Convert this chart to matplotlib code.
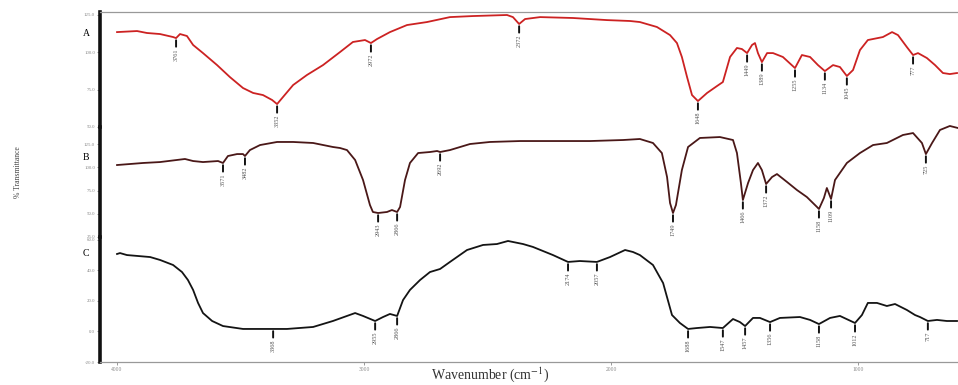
#! /usr/bin/env python3

"""
FTIR spectra of three samples (A, B, C) stacked on one wavenumber axis.
"""

import numpy as np
import matplotlib.pyplot as plt

# ---- data ------------------------------------------------------------
wn_a = [4000, 3919, 3879, 3826, 3773, 3761, 3745, 3717, 3692, 3652, 3595,
        3543, 3490, 3449, 3409, 3372, 3352, 3328, 3287, 3231, 3166, 3097,
        3045, 2996, 2972, 2947, 2895, 2826, 2745, 2652, 2559, 2421, 2397,
        2372, 2348, 2287, 2154, 2016, 1923, 1883, 1814, 1761, 1733, 1713,
        1692, 1672, 1648, 1611, 1571, 1547, 1518, 1490, 1470, 1449, 1429,
        1417, 1405, 1389, 1368, 1344, 1304, 1255, 1227, 1194, 1162, 1134,
        1101, 1073, 1045, 1020, 992, 960, 899, 862, 838, 802, 777, 757,
        721, 688, 656, 628, 599]
t_a = [113.3, 114.0, 112.7, 112.0, 110.0, 109.3, 112.0, 110.7, 104.7, 99.3,
       91.3, 83.3, 76.0, 72.7, 71.3, 68.0, 65.3, 70.0, 78.0, 84.7, 91.3,
       100.0, 106.7, 108.0, 106.0, 108.7, 113.3, 118.0, 120.0, 123.3, 124.0,
       124.7, 123.3, 118.7, 122.0, 123.3, 122.7, 121.3, 120.7, 120.0, 116.7,
       111.3, 106.0, 96.7, 83.3, 71.3, 67.3, 72.7, 77.3, 80.0, 96.7, 102.7,
       102.0, 99.3, 104.7, 106.0, 99.3, 93.3, 99.3, 99.3, 96.7, 89.3, 98.0,
       96.7, 91.3, 87.3, 91.3, 90.0, 84.0, 88.0, 101.3, 108.0, 110.0, 113.3,
       111.3, 103.3, 98.0, 99.3, 96.0, 91.3, 86.0, 85.3, 86.0]

wn_b = [4000, 3895, 3826, 3725, 3692, 3652, 3591, 3571, 3551, 3514, 3490,
        3482, 3462, 3421, 3352, 3287, 3206, 3126, 3097, 3069, 3036, 3004,
        2976, 2964, 2943, 2907, 2887, 2866, 2854, 2834, 2814, 2781, 2733,
        2704, 2692, 2652, 2571, 2490, 2368, 2219, 2085, 1951, 1883, 1830,
        1794, 1773, 1761, 1749, 1737, 1713, 1688, 1640, 1559, 1506, 1490,
        1474, 1466, 1445, 1425, 1405, 1389, 1372, 1348, 1328, 1287, 1247,
        1207, 1166, 1158, 1138, 1126, 1109, 1093, 1045, 992, 939, 883, 818,
        777, 741, 725, 700, 668, 628, 595]
t_b = [102.4, 104.6, 105.6, 108.9, 106.7, 105.6, 106.7, 104.6, 112.1, 114.2,
       114.2, 112.1, 118.5, 123.9, 127.2, 127.2, 126.1, 121.8, 120.7, 118.5,
       107.8, 86.3, 59.4, 51.9, 50.8, 51.9, 54.0, 51.9, 57.3, 86.3, 104.6,
       115.3, 116.4, 117.5, 116.4, 118.5, 125.0, 127.2, 128.2, 128.2, 128.2,
       129.3, 130.4, 126.1, 115.3, 89.5, 61.6, 50.8, 59.4, 97.0, 121.8,
       131.5, 132.5, 129.3, 115.3, 83.1, 64.8, 83.1, 97.0, 104.6, 97.0, 82.0,
       89.5, 92.7, 84.1, 75.5, 68.0, 57.3, 55.1, 66.9, 77.7, 65.9, 86.3,
       104.6, 115.3, 123.9, 126.1, 134.7, 136.8, 126.1, 114.2, 126.1, 140.1,
       144.4, 142.2]

wn_c = [4000, 3988, 3960, 3866, 3826, 3773, 3737, 3713, 3692, 3672, 3652,
        3615, 3571, 3490, 3368, 3312, 3206, 3126, 3069, 3036, 3004, 2955,
        2923, 2895, 2866, 2842, 2814, 2773, 2733, 2692, 2652, 2583, 2518,
        2462, 2417, 2356, 2316, 2235, 2174, 2126, 2057, 2004, 1943, 1911,
        1883, 1830, 1789, 1753, 1721, 1688, 1652, 1599, 1547, 1506, 1478,
        1457, 1425, 1397, 1356, 1316, 1235, 1194, 1158, 1113, 1073, 1012,
        984, 960, 923, 883, 850, 802, 769, 749, 717, 680, 640, 599]
t_c = [50.6, 51.2, 49.9, 48.6, 46.7, 43.4, 38.8, 33.6, 27.1, 18.6, 12.0,
       6.8, 3.5, 1.6, 1.6, 1.6, 2.9, 6.8, 10.1, 12.0, 10.1, 6.8, 9.4, 11.4,
       10.1, 20.5, 27.1, 33.6, 38.8, 40.8, 45.4, 53.2, 56.5, 57.1, 59.1,
       57.1, 55.2, 49.9, 45.4, 46.0, 45.4, 48.6, 53.2, 51.9, 49.9, 43.4,
       31.6, 10.7, 5.5, 1.6, 2.2, 2.9, 2.2, 8.1, 6.1, 3.5, 8.8, 8.8, 6.1,
       8.8, 9.4, 7.5, 4.8, 8.8, 10.1, 5.5, 10.7, 18.6, 18.6, 16.6, 17.9,
       14.0, 10.7, 9.4, 6.8, 7.5, 6.8, 6.8]

# marked peaks (wavenumber, used as label)
peaks_a = [3761, 3352, 2972, 2372, 1648, 1449, 1389, 1255, 1134, 1045, 777]
peaks_b = [3571, 3482, 2943, 2866, 2692, 1749, 1466, 1372, 1158, 1109, 725]
peaks_c = [3368, 2955, 2866, 2174, 2057, 1688, 1547, 1457, 1356, 1158,
           1012, 717]

yticks_a = [50, 75, 100, 125]
yticks_b = [25, 50, 75, 100, 125]
yticks_c = [-20, 0, 20, 40, 60]
xticks = [4000, 3000, 2000, 1000]

# ---- figure ------------------------------------------------------------
W, H = 958, 385
fig = plt.figure(figsize=(W / 100, H / 100), dpi=100)
plt.rcParams["font.family"] = ["Liberation Serif", "DejaVu Serif"]
plt.rcParams["mathtext.fontset"] = "stix"


def px_axes(top, bottom):
    """Add axes spanning the given pixel rows, from x=100 to the right edge."""
    return fig.add_axes([100 / W, 1 - bottom / H, 1 - 100 / W, (bottom - top) / H])


ax_a = px_axes(12, 127)
ax_b = px_axes(127, 237)
ax_c = px_axes(237, 362)

panels = [
    (ax_a, wn_a, t_a, peaks_a, yticks_a, (50, 126.7), "#cc2222", "A", 33),
    (ax_b, wn_b, t_b, peaks_b, yticks_b, (25, 143.3), "#4a1818", "B", 158),
    (ax_c, wn_c, t_c, peaks_c, yticks_c, (-20, 61.7), "#141414", "C", 254),
]

for ax, wn, tr, peaks, yt, ylim, color, letter, ly in panels:
    ax.set_facecolor("none")
    ax.plot(wn, tr, color=color, lw=1.3, clip_on=False, zorder=3)
    ax.set_xlim(4069, 595)
    ax.set_ylim(*ylim)

    # peak markers: short tick under the curve and a rotated label
    wn_inc = np.array(wn[::-1])
    tr_inc = np.array(tr[::-1])
    for p in peaks:
        y = np.interp(p, wn_inc, tr_inc)
        ax.annotate("", xy=(p, y), xytext=(0, -6.2), textcoords="offset points",
                    arrowprops=dict(arrowstyle="-", lw=1.4, color="#111111",
                                    shrinkA=0, shrinkB=1.6),
                    annotation_clip=False)
        ax.annotate(str(p), xy=(p, y), xytext=(0, -7.8),
                    textcoords="offset points", rotation=90, ha="center",
                    va="top", fontsize=4.5, color="#555555",
                    annotation_clip=False)

    ax.set_yticks(yt)
    ax.set_yticklabels([f"{v:.1f}" for v in yt])
    ax.tick_params(axis="y", direction="out", length=2.5, width=0.6,
                   colors="#888888", labelsize=3.5, pad=1)
    ax.tick_params(axis="x", bottom=False, labelbottom=False)
    for side in ("top", "bottom", "right"):
        ax.spines[side].set_visible(False)
    ax.spines["left"].set_linewidth(2.6)
    ax.spines["left"].set_color("#111111")

    fig.text(86 / W, 1 - ly / H, letter, fontsize=7, ha="center", va="center")

ax_a.spines["top"].set_visible(True)
ax_a.spines["top"].set_color("#999999")
ax_a.spines["top"].set_linewidth(0.9)

ax_c.spines["bottom"].set_visible(True)
ax_c.spines["bottom"].set_color("#999999")
ax_c.spines["bottom"].set_linewidth(0.9)
ax_c.set_xticks(xticks)
ax_c.tick_params(axis="x", bottom=True, labelbottom=True, direction="out",
                 length=2, width=0.6, colors="#888888", labelsize=4, pad=1.5)

fig.text(490 / W, 1 / H, "Wavenumber (cm$^{-1}$)", fontsize=10,
         ha="center", va="bottom", color="#333333")
fig.text(18 / W, 1 - 172 / H, "% Transmittance", fontsize=5.5, rotation=90,
         ha="center", va="center", color="#444444")

fig.savefig("out.png", dpi=100)
